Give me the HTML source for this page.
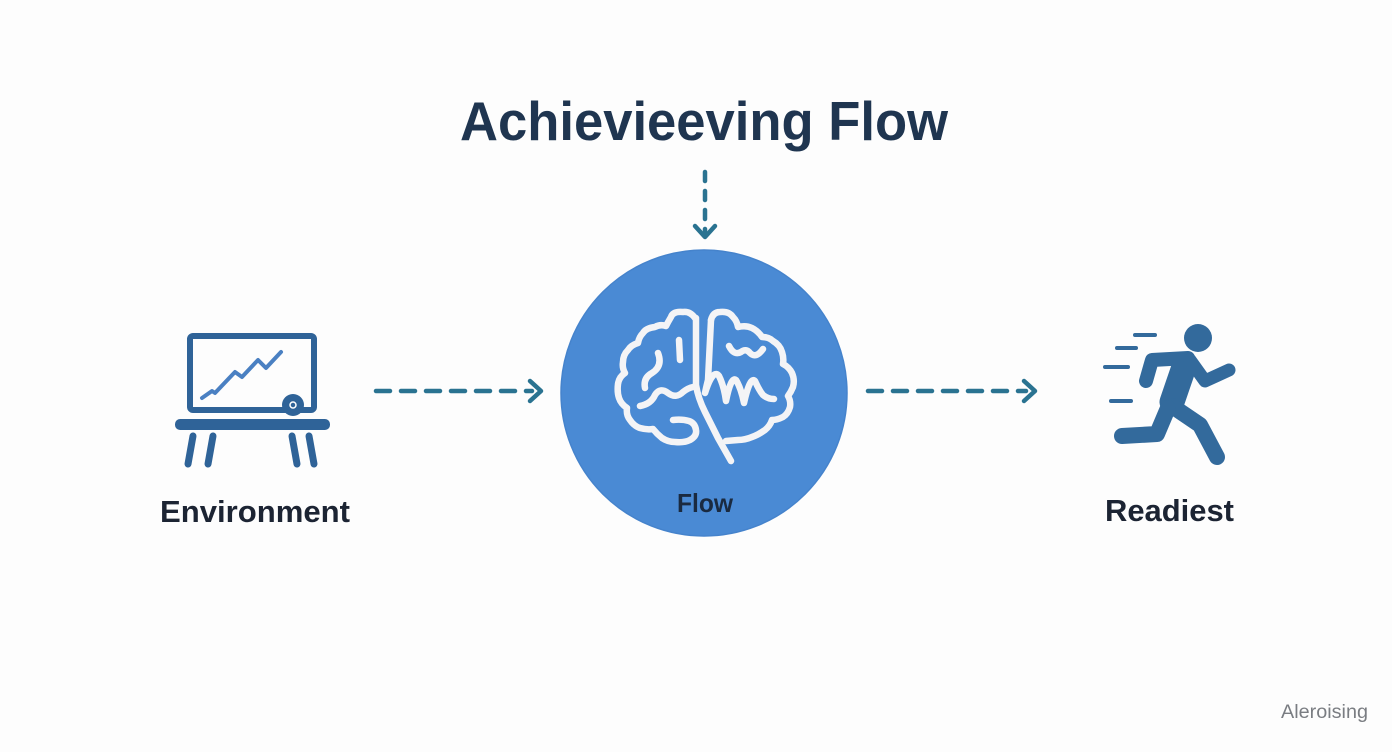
<!DOCTYPE html>
<html>
<head>
<meta charset="utf-8">
<style>
html,body{margin:0;padding:0;background:#fdfdfd;}
svg{display:block;}
text{font-family:"Liberation Sans",Arial,sans-serif;}
</style>
</head>
<body>
<svg width="1392" height="752" viewBox="0 0 1392 752" xmlns="http://www.w3.org/2000/svg">
<rect width="1392" height="752" fill="#fdfdfd"/>

<!-- Title -->
<text x="460" y="140" font-size="55" font-weight="bold" fill="#1f3550" textLength="488" lengthAdjust="spacingAndGlyphs">Achievieeving Flow</text>

<g stroke="#2a7391" stroke-width="4.5" stroke-linecap="round" fill="none" stroke-linejoin="round">
  <line x1="705" y1="172" x2="705" y2="232" stroke-dasharray="9 10"/>
  <polyline points="695,226 705,237 715,226"/>
  <line x1="376" y1="391" x2="532" y2="391" stroke-dasharray="14 11"/>
  <polyline points="530,381 541,391 530,401"/>
  <line x1="868" y1="391" x2="1026" y2="391" stroke-dasharray="14 11"/>
  <polyline points="1024,381 1035,391 1024,401"/>
</g>

<!-- Central circle -->
<circle cx="704" cy="393" r="143" fill="#4a8ad4" stroke="#4583cc" stroke-width="1.5"/>

<!-- Brain -->
<g stroke="#f4f4f6" stroke-width="6.5" fill="none" stroke-linecap="round" stroke-linejoin="round">
  <path d="M695,318 Q690,311 683,312 Q673,311 671,317 Q668,322 666,326 Q660,324 655,327 Q646,328 643,333 Q639,337 638,343 Q631,345 628,350 Q623,355 623,362 Q622,368 625,373 Q619,377 618,384 Q617,392 619,398 Q621,404 627,408 Q626,415 630,420 Q634,426 640,428 Q647,430 653,429 Q657,434 662,438 Q668,442 675,442 Q684,443 690,440 Q697,436 696,430 Q695,423 689,421 Q682,419 673,420"/>
  <path d="M696,318 L696,385 Q698,398 705,412 L718,438 L731,461"/>
  <path d="M679,340 L680,360"/>
  <path d="M658,353 Q663,366 652,373 Q643,378 645,388"/>
  <path d="M640,406 Q651,404 655,395 Q660,387 668,393 Q676,399 683,392 Q688,388 693,387"/>
  <path d="M711,320 Q713,312 720,312 Q729,311 733,317 Q737,321 738,327 Q746,325 752,328 Q758,331 762,337 Q769,337 773,341 Q780,345 782,352 Q784,358 783,364 Q789,367 792,373 Q795,380 793,387 Q791,392 788,396 Q791,401 790,407 Q788,414 783,417 Q777,420 772,420 Q770,426 765,430 Q758,435 752,437 Q745,440 738,440 L726,441"/>
  <path d="M711,320 L708,380 Q706,388 705,393 Q713,368 719,376 Q724,386 726,401 Q731,376 736,380 Q741,388 744,403 Q750,376 755,381 Q759,390 763,395 Q768,399 774,399"/>
  <path d="M729,346 Q734,356 741,352 Q746,348 750,353 Q756,359 763,349"/>
</g>
<text x="677" y="512" font-size="26" font-weight="bold" fill="#1a2a40" textLength="56" lengthAdjust="spacingAndGlyphs">Flow</text>

<!-- Environment icon -->
<g fill="none" stroke="#2f6398" stroke-linecap="round" stroke-linejoin="round">
  <rect x="190" y="336" width="124" height="74" rx="3" stroke-width="6"/>
  <polyline points="202,398 212,391 215,393 235,372 242,377 258,360 266,368 281,352" stroke="#4a80c2" stroke-width="4"/>
  <line x1="193" y1="436" x2="188" y2="464" stroke-width="7"/>
  <line x1="213" y1="436" x2="208" y2="464" stroke-width="7"/>
  <line x1="292" y1="436" x2="297" y2="464" stroke-width="7"/>
  <line x1="309" y1="436" x2="314" y2="464" stroke-width="7"/>
</g>
<rect x="175" y="419" width="155" height="11" rx="5" fill="#2f6398"/>
<circle cx="293" cy="405" r="11" fill="#2f6398"/>
<circle cx="293" cy="405" r="3" fill="none" stroke="#ffffff" stroke-width="1.5"/>
<text x="160" y="522" font-size="31" font-weight="bold" fill="#1c2433" textLength="190" lengthAdjust="spacingAndGlyphs">Environment</text>

<!-- Runner icon -->
<g stroke="#336a9c" fill="none" stroke-linecap="round" stroke-linejoin="round">
  <line x1="1135" y1="335" x2="1155" y2="335" stroke-width="4"/>
  <line x1="1117" y1="348" x2="1136" y2="348" stroke-width="4"/>
  <line x1="1105" y1="367" x2="1128" y2="367" stroke-width="4"/>
  <line x1="1111" y1="401" x2="1131" y2="401" stroke-width="4"/>
  <polyline points="1146,381 1152,360 1188,358" stroke-width="14"/>
  <line x1="1185" y1="364" x2="1172" y2="402" stroke-width="25"/>
  <polyline points="1190,360 1205,381 1229,370" stroke-width="13"/>
  <polyline points="1172,406 1200,425 1217,457" stroke-width="16"/>
  <polyline points="1168,408 1157,434 1122,436" stroke-width="16"/>
</g>
<circle cx="1198" cy="338" r="14" fill="#336a9c"/>
<text x="1105" y="521" font-size="31" font-weight="bold" fill="#1c2433" textLength="129" lengthAdjust="spacingAndGlyphs">Readiest</text>

<!-- watermark -->
<text x="1281" y="718" font-size="19" fill="#7a7d82" textLength="87" lengthAdjust="spacingAndGlyphs">Aleroising</text>
</svg>
</body>
</html>
